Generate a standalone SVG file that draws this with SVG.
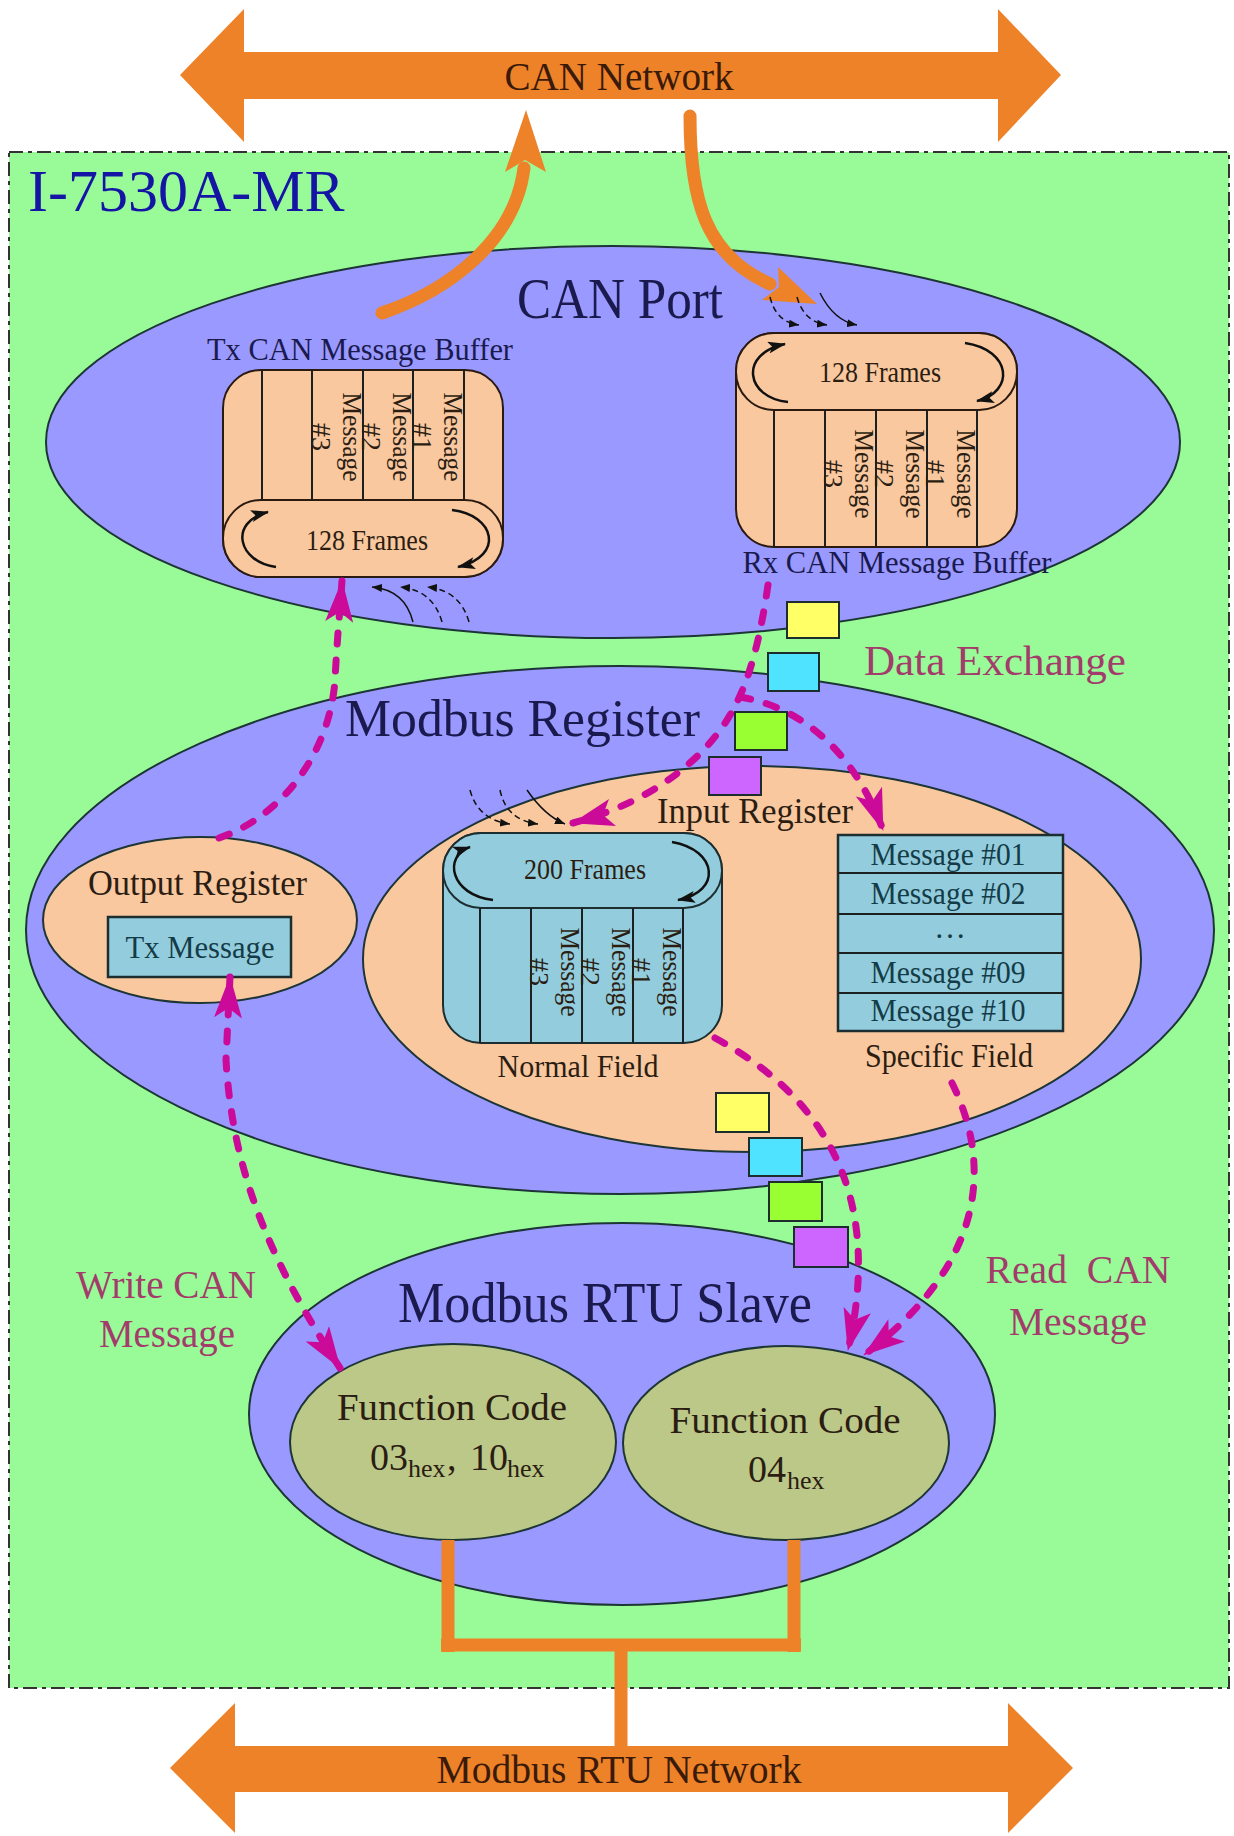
<svg xmlns="http://www.w3.org/2000/svg" width="1234" height="1836" viewBox="0 0 1234 1836">
<style>
.t{font-family:"Liberation Serif","Times New Roman",serif}
.navy{fill:#1a1a4e}
.brn{fill:#2b1d12}
.teal{fill:#143c48}
.pink{fill:#a33b6b}
.ell{stroke:#1d3535;stroke-width:2}
.blue{fill:#9999ff}
.peach{fill:#f9c89f}
.lb{fill:#93cddd;stroke:#1d2d30;stroke-width:2.5}
.ln{stroke:#1d2020;stroke-width:2}
.mg{fill:none;stroke:#cc0a99;stroke-width:7;stroke-dasharray:11 16;stroke-linecap:round;marker-end:url(#mgA)}
.loop{fill:none;stroke:#111;stroke-width:2.5;marker-end:url(#lpA)}
.sm{fill:none;stroke:#111;stroke-width:1.5;marker-end:url(#smA)}
.smd{fill:none;stroke:#111;stroke-width:1.5;stroke-dasharray:6 4;marker-end:url(#smA)}
.or{fill:#ee8228}
.ors{fill:none;stroke:#ee8228;stroke-linecap:round}
.sq{stroke:#1d2d2d;stroke-width:2}
</style>
<defs>
<marker id="mgA" viewBox="0 0 42 28" refX="41" refY="14" markerWidth="42" markerHeight="28" markerUnits="userSpaceOnUse" orient="auto-start-reverse">
<path d="M0,0 L42,14 L0,28 L10,14 z" fill="#cc0a99"/>
</marker>
<marker id="lpA" viewBox="0 0 18 12" refX="17" refY="6" markerWidth="18" markerHeight="12" markerUnits="userSpaceOnUse" orient="auto">
<path d="M0,0 L18,6 L0,12 L4,6 z" fill="#111"/>
</marker>
<marker id="smA" viewBox="0 0 10 8" refX="10" refY="4" markerWidth="10" markerHeight="8" markerUnits="userSpaceOnUse" orient="auto">
<path d="M0,0 L10,4 L0,8 z" fill="#111"/>
</marker>
</defs>
<rect width="1234" height="1836" fill="#ffffff"/>

<g id="device">
<rect x="9" y="152" width="1220" height="1536" fill="#98fb98" stroke="#333" stroke-width="2" stroke-dasharray="14 5 4 5"/>
<text class="t" x="28" y="211" font-size="60" fill="#1515a5">I-7530A-MR</text>
</g>

<g id="can-network">
<polygon class="or" points="180,75 244,9 244,52 998,52 998,9 1061,75 998,142 998,99 244,99 244,142"/>
<text class="t" x="619" y="90" font-size="40" text-anchor="middle" fill="#3a1a0a" textLength="229" lengthAdjust="spacingAndGlyphs">CAN Network</text>
</g>

<g id="can-port">
<ellipse class="ell blue" cx="613" cy="442" rx="567" ry="196"/>
<text class="t navy" x="620" y="318" font-size="58" text-anchor="middle" textLength="206" lengthAdjust="spacingAndGlyphs">CAN Port</text>
</g>

<g id="tx-buffer">
<text class="t navy" x="360" y="360" font-size="32" text-anchor="middle" textLength="306" lengthAdjust="spacingAndGlyphs">Tx CAN Message Buffer</text>
<rect x="223" y="370" width="280" height="207" rx="38" ry="38" fill="#f9c89f" stroke="#2a1a10" stroke-width="2"/>
<rect x="223" y="500" width="280" height="77" rx="38" ry="38" fill="#f9c89f" stroke="#2a1a10" stroke-width="2"/>
<g class="ln"><line x1="262" y1="370" x2="262" y2="500"/><line x1="312" y1="370" x2="312" y2="500"/><line x1="363" y1="370" x2="363" y2="500"/><line x1="413" y1="370" x2="413" y2="500"/><line x1="464" y1="370" x2="464" y2="500"/></g>
<g class="t brn" font-size="28" text-anchor="middle">
<text x="444" y="437" transform="rotate(90 444 437)" textLength="89" lengthAdjust="spacingAndGlyphs">Message</text>
<text x="413" y="437" transform="rotate(90 413 437)">#1</text>
<text x="393" y="437" transform="rotate(90 393 437)" textLength="89" lengthAdjust="spacingAndGlyphs">Message</text>
<text x="362" y="437" transform="rotate(90 362 437)">#2</text>
<text x="343" y="437" transform="rotate(90 343 437)" textLength="89" lengthAdjust="spacingAndGlyphs">Message</text>
<text x="312" y="437" transform="rotate(90 312 437)">#3</text>
</g>
<text class="t brn" x="367" y="550" font-size="29" text-anchor="middle" textLength="122" lengthAdjust="spacingAndGlyphs">128 Frames</text>
<path class="loop" d="M276,567 C238,562 228,522 268,512"/>
<path class="loop" d="M452,510 C495,515 505,556 458,567"/>
</g>

<g id="rx-buffer">
<rect x="736" y="333" width="281" height="214" rx="38" ry="38" fill="#f9c89f" stroke="#2a1a10" stroke-width="2"/>
<rect x="736" y="333" width="281" height="77" rx="38" ry="38" fill="#f9c89f" stroke="#2a1a10" stroke-width="2"/>
<g class="ln"><line x1="774" y1="410" x2="774" y2="547"/><line x1="825" y1="410" x2="825" y2="547"/><line x1="876" y1="410" x2="876" y2="547"/><line x1="927" y1="410" x2="927" y2="547"/><line x1="977" y1="410" x2="977" y2="547"/></g>
<g class="t brn" font-size="28" text-anchor="middle">
<text x="957" y="474" transform="rotate(90 957 474)" textLength="89" lengthAdjust="spacingAndGlyphs">Message</text>
<text x="926" y="474" transform="rotate(90 926 474)">#1</text>
<text x="906" y="474" transform="rotate(90 906 474)" textLength="89" lengthAdjust="spacingAndGlyphs">Message</text>
<text x="875" y="474" transform="rotate(90 875 474)">#2</text>
<text x="855" y="474" transform="rotate(90 855 474)" textLength="89" lengthAdjust="spacingAndGlyphs">Message</text>
<text x="824" y="474" transform="rotate(90 824 474)">#3</text>
</g>
<text class="t brn" x="880" y="382" font-size="29" text-anchor="middle" textLength="122" lengthAdjust="spacingAndGlyphs">128 Frames</text>
<path class="loop" d="M788,402 C746,398 738,354 785,344"/>
<path class="loop" d="M965,343 C1012,350 1015,392 977,401"/>
<text class="t navy" x="897" y="573" font-size="32" text-anchor="middle" textLength="309" lengthAdjust="spacingAndGlyphs">Rx CAN Message Buffer</text>
</g>

<g id="modbus-register">
<ellipse class="ell blue" cx="620" cy="930" rx="594" ry="264"/>
<text class="t navy" x="345" y="736" font-size="53" textLength="355" lengthAdjust="spacingAndGlyphs">Modbus Register</text>
</g>

<g id="output-register">
<ellipse class="ell peach" cx="200" cy="920" rx="157" ry="83"/>
<text class="t brn" x="88" y="895" font-size="35" textLength="219" lengthAdjust="spacingAndGlyphs">Output Register</text>
<rect class="lb" x="108" y="917" width="183" height="60"/>
<text class="t teal" x="200" y="958" font-size="32" text-anchor="middle" textLength="149" lengthAdjust="spacingAndGlyphs">Tx Message</text>
</g>

<g id="input-register">
<ellipse class="ell peach" cx="752" cy="959" rx="389" ry="193"/>
<text class="t brn" x="657" y="823" font-size="35" textLength="196" lengthAdjust="spacingAndGlyphs">Input Register</text>
</g>

<g id="normal-field">
<rect x="443" y="833" width="279" height="210" rx="38" ry="38" fill="#93cddd" stroke="#1d2d30" stroke-width="2"/>
<rect x="443" y="833" width="279" height="75" rx="38" ry="38" fill="#93cddd" stroke="#1d2d30" stroke-width="2"/>
<g class="ln"><line x1="480" y1="908" x2="480" y2="1043"/><line x1="531" y1="908" x2="531" y2="1043"/><line x1="582" y1="908" x2="582" y2="1043"/><line x1="633" y1="908" x2="633" y2="1043"/><line x1="683" y1="908" x2="683" y2="1043"/></g>
<g class="t brn" font-size="28" text-anchor="middle">
<text x="663" y="972" transform="rotate(90 663 972)" textLength="89" lengthAdjust="spacingAndGlyphs">Message</text>
<text x="632" y="972" transform="rotate(90 632 972)">#1</text>
<text x="612" y="972" transform="rotate(90 612 972)" textLength="89" lengthAdjust="spacingAndGlyphs">Message</text>
<text x="581" y="972" transform="rotate(90 581 972)">#2</text>
<text x="561" y="972" transform="rotate(90 561 972)" textLength="89" lengthAdjust="spacingAndGlyphs">Message</text>
<text x="530" y="972" transform="rotate(90 530 972)">#3</text>
</g>
<text class="t brn" x="585" y="879" font-size="29" text-anchor="middle" textLength="122" lengthAdjust="spacingAndGlyphs">200 Frames</text>
<path class="loop" d="M493,900 C450,895 443,856 470,847"/>
<path class="loop" d="M672,842 C718,850 722,892 678,900"/>
<text class="t brn" x="578" y="1077" font-size="32" text-anchor="middle" textLength="161" lengthAdjust="spacingAndGlyphs">Normal Field</text>
</g>

<g id="specific-field">
<rect class="lb" x="838" y="835" width="225" height="196"/>
<g class="ln"><line x1="838" y1="873" x2="1063" y2="873"/><line x1="838" y1="914" x2="1063" y2="914"/><line x1="838" y1="953" x2="1063" y2="953"/><line x1="838" y1="993" x2="1063" y2="993"/></g>
<g class="t teal" font-size="32" text-anchor="middle">
<text x="948" y="865" textLength="155" lengthAdjust="spacingAndGlyphs">Message #01</text>
<text x="948" y="904" textLength="155" lengthAdjust="spacingAndGlyphs">Message #02</text>
<text x="950" y="938">…</text>
<text x="948" y="983" textLength="155" lengthAdjust="spacingAndGlyphs">Message #09</text>
<text x="948" y="1021" textLength="155" lengthAdjust="spacingAndGlyphs">Message #10</text>
</g>
<text class="t brn" x="949" y="1067" font-size="33" text-anchor="middle" textLength="168" lengthAdjust="spacingAndGlyphs">Specific Field</text>
</g>

<g id="modbus-rtu-slave">
<ellipse class="ell blue" cx="622" cy="1414" rx="373" ry="191"/>
<text class="t navy" x="605" y="1322" font-size="57" text-anchor="middle" textLength="414" lengthAdjust="spacingAndGlyphs">Modbus RTU Slave</text>
</g>

<g id="fc-03-10">
<ellipse class="ell" fill="#bbc888" cx="453" cy="1442" rx="163" ry="98"/>
<text class="t brn" x="452" y="1420" font-size="38" text-anchor="middle" textLength="230" lengthAdjust="spacingAndGlyphs">Function Code</text>
<text class="t brn" font-size="38"><tspan x="370" y="1470">03</tspan><tspan x="408" y="1477" font-size="26">hex</tspan><tspan x="447" y="1470">,</tspan><tspan x="470" y="1470">10</tspan><tspan x="507" y="1477" font-size="26">hex</tspan></text>
</g>

<g id="fc-04">
<ellipse class="ell" fill="#bbc888" cx="786" cy="1443" rx="163" ry="97"/>
<text class="t brn" x="785" y="1433" font-size="38" text-anchor="middle" textLength="231" lengthAdjust="spacingAndGlyphs">Function Code</text>
<text class="t brn" font-size="38"><tspan x="748" y="1482">04</tspan><tspan x="787" y="1489" font-size="26">hex</tspan></text>
</g>

<g id="modbus-rtu-network">
<polygon class="or" points="170,1768 235,1703 235,1746 1008,1746 1008,1703 1073,1768 1008,1833 1008,1792 235,1792 235,1833"/>
<text class="t" x="619" y="1783" font-size="41" text-anchor="middle" fill="#3a1a0a" textLength="365" lengthAdjust="spacingAndGlyphs">Modbus RTU Network</text>
</g>

<g id="labels">
<text class="t pink" x="864" y="675" font-size="43" textLength="262" lengthAdjust="spacingAndGlyphs">Data Exchange</text>
<text class="t pink" x="166" y="1298" font-size="39" text-anchor="middle" textLength="180" lengthAdjust="spacingAndGlyphs">Write CAN</text>
<text class="t pink" x="167" y="1347" font-size="39" text-anchor="middle" textLength="136" lengthAdjust="spacingAndGlyphs">Message</text>
<text class="t pink" x="1078" y="1283" font-size="39" text-anchor="middle" xml:space="preserve" textLength="185" lengthAdjust="spacingAndGlyphs">Read  CAN</text>
<text class="t pink" x="1078" y="1335" font-size="39" text-anchor="middle" textLength="138" lengthAdjust="spacingAndGlyphs">Message</text>
</g>

<g id="connectors">
<path class="ors" stroke-width="13" d="M382,313 C450,290 515,240 524,168"/>
<polygon class="or" points="526,110 546,172 525,160 505,172"/>
<path class="ors" stroke-width="13" d="M690,116 C690,200 705,255 770,284"/>
<polygon class="or" points="817,304 762,300 779,287 778,267"/>
<g fill="none" stroke="#ee8228" stroke-width="13">
<line x1="448" y1="1540" x2="448" y2="1652"/>
<line x1="794" y1="1540" x2="794" y2="1652"/>
<line x1="441" y1="1645" x2="801" y2="1645"/>
<line x1="621" y1="1645" x2="621" y2="1748"/>
</g>
<path class="smd" d="M770,297 Q776,322 799,325"/>
<path class="smd" d="M797,297 Q804,322 827,325"/>
<path class="sm" d="M820,293 Q834,321 857,325"/>
<path class="sm" d="M413,622 Q405,590 372,587"/>
<path class="smd" d="M442,622 Q433,590 400,587"/>
<path class="smd" d="M469,622 Q460,590 427,587"/>
<path class="smd" d="M470,790 Q478,820 510,824"/>
<path class="smd" d="M500,790 Q506,820 538,824"/>
<path class="sm" d="M527,790 Q545,816 565,824"/>
<path class="mg" d="M219,838 C285,815 330,750 335,680 C337,640 340,610 342,581"/>
<path class="mg" style="marker-start:url(#mgA)" d="M230,977 L226,1060 C232,1160 262,1250 340,1368"/>
<path class="mg" d="M715,1038 C820,1095 885,1190 848,1350"/>
<path class="mg" d="M952,1083 C990,1160 990,1260 864,1355"/>
<path class="mg" d="M768,585 C760,640 750,675 738,700 C715,750 660,800 573,823"/>
<path class="mg" d="M740,697 C790,705 850,740 883,830"/>
</g>

<g id="data-squares">
<rect class="sq" x="787" y="602" width="52" height="36" fill="#ffff66"/>
<rect class="sq" x="768" y="653" width="51" height="38" fill="#4fe3ff"/>
<rect class="sq" x="735" y="712" width="52" height="38" fill="#99ff33"/>
<rect class="sq" x="709" y="757" width="52" height="38" fill="#cc66ff"/>
<rect class="sq" x="716" y="1093" width="53" height="39" fill="#ffff66"/>
<rect class="sq" x="749" y="1138" width="53" height="38" fill="#4fe3ff"/>
<rect class="sq" x="769" y="1182" width="53" height="39" fill="#99ff33"/>
<rect class="sq" x="794" y="1227" width="54" height="40" fill="#cc66ff"/>
</g>
</svg>
